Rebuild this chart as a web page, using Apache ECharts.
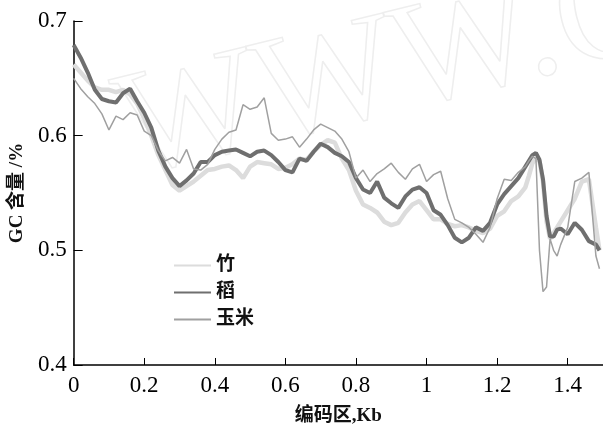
<!DOCTYPE html>
<html>
<head>
<meta charset="utf-8">
<script src="https://cdn.jsdelivr.net/npm/echarts@6/dist/echarts.min.js"></script>
<style>
  html, body { margin: 0; padding: 0; background: #fff; }
  #chart { width: 603px; height: 431px; }
</style>
</head>
<body>
<div id="chart"></div>
<script>
// 编码区位置 (Kb)
var xs = [0, 0.02, 0.04, 0.06, 0.08, 0.10, 0.12, 0.14, 0.16, 0.18,
  0.20, 0.22, 0.24, 0.26, 0.28, 0.30, 0.32, 0.34, 0.36, 0.38,
  0.40, 0.42, 0.44, 0.46, 0.48, 0.50, 0.52, 0.54, 0.56, 0.58,
  0.60, 0.62, 0.64, 0.66, 0.68, 0.70, 0.72, 0.74, 0.76, 0.78,
  0.80, 0.82, 0.84, 0.86, 0.88, 0.90, 0.92, 0.94, 0.96, 0.98,
  1.00, 1.02, 1.04, 1.06, 1.08, 1.10, 1.12, 1.14, 1.16, 1.18,
  1.20, 1.22, 1.24, 1.26, 1.28, 1.29, 1.30, 1.31, 1.32, 1.33,
  1.34, 1.35, 1.36, 1.37, 1.38, 1.40, 1.42, 1.44, 1.46, 1.48, 1.49];

// 竹
var bamboo = [0.662, 0.655, 0.648, 0.642, 0.640, 0.640, 0.638, 0.640, 0.636, 0.628,
  0.615, 0.600, 0.583, 0.570, 0.557, 0.552, 0.556, 0.560, 0.565, 0.570,
  0.571, 0.573, 0.574, 0.570, 0.563, 0.573, 0.577, 0.576, 0.575, 0.571,
  0.572, 0.575, 0.580, 0.579, 0.586, 0.592, 0.596, 0.594, 0.580, 0.570,
  0.552, 0.540, 0.537, 0.533, 0.525, 0.522, 0.524, 0.533, 0.540, 0.543,
  0.535, 0.527, 0.527, 0.523, 0.521, 0.522, 0.520, 0.517, 0.515, 0.519,
  0.530, 0.534, 0.543, 0.547, 0.555, 0.565, 0.576, 0.580, 0.578, 0.560,
  0.525, 0.510, 0.515, 0.520, 0.525, 0.535, 0.545, 0.560, 0.562, 0.520, 0.500];

// 稻
var rice = [0.679, 0.668, 0.655, 0.640, 0.632, 0.630, 0.629, 0.637, 0.641, 0.630,
  0.620, 0.607, 0.587, 0.573, 0.563, 0.556, 0.561, 0.567, 0.577, 0.577,
  0.583, 0.586, 0.587, 0.588, 0.585, 0.582, 0.586, 0.587, 0.583, 0.577,
  0.570, 0.568, 0.580, 0.578, 0.586, 0.593, 0.590, 0.585, 0.582, 0.577,
  0.563, 0.553, 0.550, 0.560, 0.546, 0.541, 0.537, 0.547, 0.553, 0.555,
  0.550, 0.535, 0.531, 0.522, 0.511, 0.507, 0.511, 0.520, 0.517, 0.524,
  0.540, 0.549, 0.556, 0.563, 0.573, 0.578, 0.583, 0.585, 0.579, 0.562,
  0.530, 0.512, 0.512, 0.518, 0.519, 0.514, 0.524, 0.518, 0.508, 0.505, 0.500];

// 玉米
var maize = [0.650, 0.641, 0.634, 0.628, 0.619, 0.605, 0.617, 0.614, 0.620, 0.618,
  0.604, 0.600, 0.587, 0.578, 0.581, 0.576, 0.588, 0.571, 0.570, 0.575,
  0.588, 0.597, 0.603, 0.605, 0.627, 0.623, 0.625, 0.633, 0.602, 0.596,
  0.597, 0.599, 0.590, 0.597, 0.605, 0.610, 0.607, 0.604, 0.597, 0.586,
  0.563, 0.570, 0.560, 0.567, 0.571, 0.576, 0.568, 0.562, 0.571, 0.575,
  0.560, 0.566, 0.569, 0.545, 0.527, 0.524, 0.520, 0.514, 0.507, 0.520,
  0.545, 0.562, 0.561, 0.568, 0.573, 0.578, 0.582, 0.580, 0.500, 0.464,
  0.468, 0.510, 0.500, 0.495, 0.505, 0.520, 0.560, 0.563, 0.568, 0.495, 0.484];

var xTicks = ['0', '0.2', '0.4', '0.6', '0.8', '1', '1.2', '1.4'];
var yTicks = ['0.4', '0.5', '0.6', '0.7'];

function pairs(vals) {
    return xs.map(function (x, i) { return [x, vals[i]]; });
}

var myChart = echarts.init(document.getElementById('chart'));
var serif = 'Liberation Serif';
var cjk = '"Liberation Serif", "Noto Sans CJK SC"';

myChart.setOption({
    animation: false,
    backgroundColor: '#fff',
    graphic: [
        {
            type: 'text',
            x: 140,
            y: 210,
            rotation: 0.24,
            z: -10,
            silent: true,
            style: {
                text: 'WWW.C',
                font: '150px "Liberation Serif"',
                fill: 'none',
                stroke: '#eeeeee',
                lineWidth: 1.5,
                textVerticalAlign: 'bottom'
            }
        }
    ],
    grid: {
        left: 67,
        right: 0,
        top: 21,
        bottom: 64
    },
    legend: {
        orient: 'vertical',
        left: 168,
        top: 251,
        itemWidth: 37,
        itemHeight: 12,
        itemGap: 8,
        itemStyle: { opacity: 0 },
        textStyle: {
            fontFamily: cjk,
            fontSize: 19,
            fontWeight: 'bold',
            color: '#111'
        },
        data: ['竹', '稻', '玉米']
    },
    xAxis: {
        type: 'value',
        min: 0,
        max: 1.5,
        interval: 0.2,
        name: '编码区,Kb',
        nameLocation: 'middle',
        nameGap: 42,
        nameTextStyle: {
            fontFamily: cjk,
            fontSize: 19,
            fontWeight: 'bold',
            color: '#111'
        },
        axisLine: { lineStyle: { color: '#000', width: 1.5 } },
        axisTick: { inside: true, length: 7, lineStyle: { color: '#000' } },
        splitLine: { show: false },
        axisLabel: {
            showMaxLabel: false,
            margin: 9,
            fontFamily: serif,
            fontSize: 23,
            color: '#000',
            formatter: function (v) {
                var i = Math.round(v / 0.2);
                return xTicks[i] !== undefined ? xTicks[i] : '';
            }
        }
    },
    yAxis: {
        type: 'value',
        min: 0.4,
        max: 0.7,
        interval: 0.1,
        name: 'GC 含量 /%',
        nameLocation: 'middle',
        nameGap: 45,
        nameTextStyle: {
            fontFamily: cjk,
            fontSize: 19,
            fontWeight: 'bold',
            color: '#111'
        },
        axisLine: { show: true, lineStyle: { color: '#000', width: 1.5 } },
        axisTick: { show: true, inside: true, length: 9, lineStyle: { color: '#000' } },
        splitLine: { show: false },
        axisLabel: {
            margin: 7,
            fontFamily: serif,
            fontSize: 23,
            color: '#000',
            formatter: function (v) {
                var i = Math.round((v - 0.4) / 0.1);
                return yTicks[i];
            }
        }
    },
    series: [
        {
            name: '竹',
            type: 'line',
            symbol: 'none',
            data: pairs(bamboo),
            lineStyle: { color: '#dcdcdc', width: 4.5 },
            itemStyle: { color: '#dcdcdc' }
        },
        {
            name: '稻',
            type: 'line',
            symbol: 'none',
            data: pairs(rice),
            lineStyle: { color: '#6f6f6f', width: 4 },
            itemStyle: { color: '#6f6f6f' }
        },
        {
            name: '玉米',
            type: 'line',
            symbol: 'none',
            data: pairs(maize),
            lineStyle: { color: '#a0a0a0', width: 1.5 },
            itemStyle: { color: '#a0a0a0' }
        }
    ]
});
</script>
</body>
</html>
